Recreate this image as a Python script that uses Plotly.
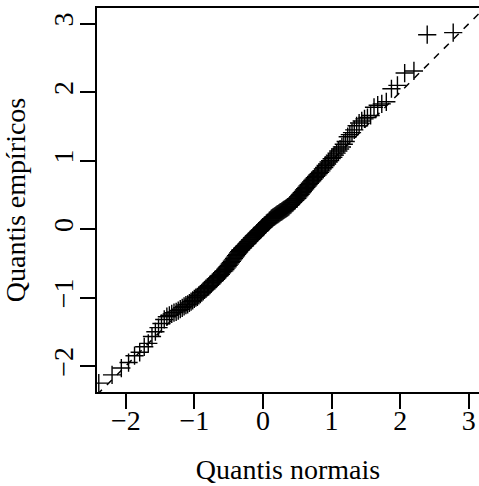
from statistics import NormalDist
import plotly.graph_objects as go

# Sorted sample (empirical quantiles)
amostra = [
    -2.60, -2.25, -2.13, -2.03, -1.95, -1.85, -1.80, -1.72, -1.67, -1.57,
    -1.50, -1.44, -1.38, -1.32, -1.28, -1.26, -1.24, -1.22, -1.21, -1.19,
    -1.17, -1.15, -1.13, -1.11, -1.10, -1.08, -1.06, -1.04, -1.02, -1.00,
    -0.99, -0.97, -0.95, -0.93, -0.91, -0.89, -0.87, -0.85, -0.84, -0.82,
    -0.80, -0.78, -0.76, -0.75, -0.73, -0.71, -0.69, -0.68, -0.66, -0.64,
    -0.62, -0.61, -0.59, -0.57, -0.55, -0.53, -0.51, -0.49, -0.47, -0.45,
    -0.43, -0.41, -0.39, -0.37, -0.35, -0.33, -0.31, -0.30, -0.28, -0.27,
    -0.25, -0.24, -0.22, -0.21, -0.19, -0.18, -0.16, -0.15, -0.13, -0.12,
    -0.10, -0.09, -0.08, -0.06, -0.05, -0.03, -0.02, -0.01, 0.01, 0.02,
    0.03, 0.05, 0.06, 0.08, 0.09, 0.10, 0.12, 0.13, 0.15, 0.16,
    0.17, 0.18, 0.19, 0.20, 0.21, 0.22, 0.23, 0.24, 0.25, 0.26,
    0.27, 0.28, 0.29, 0.30, 0.31, 0.32, 0.33, 0.35, 0.36, 0.38,
    0.39, 0.41, 0.42, 0.44, 0.45, 0.47, 0.49, 0.51, 0.53, 0.55,
    0.57, 0.59, 0.61, 0.63, 0.65, 0.67, 0.69, 0.71, 0.73, 0.75,
    0.77, 0.79, 0.81, 0.83, 0.85, 0.88, 0.90, 0.93, 0.95, 0.98,
    1.00, 1.03, 1.05, 1.08, 1.11, 1.14, 1.17, 1.20, 1.24, 1.28,
    1.35, 1.38, 1.41, 1.45, 1.51, 1.55, 1.58, 1.61, 1.63, 1.66,
    1.78, 1.81, 1.83, 1.86, 2.05, 2.10, 2.28, 2.31, 2.84, 2.87,
]

x_ticks = [-2, -1, 0, 1, 2, 3]
y_ticks = [-2, -1, 0, 1, 2, 3]
x_range = [-2.42, 3.149]
y_range = [-2.38, 3.23]

# Theoretical normal quantiles at the plotting positions (i - 0.5) / n
n = len(amostra)
nd = NormalDist()
teoricos = [nd.inv_cdf((i + 0.5) / n) for i in range(n)]

fig = go.Figure()

# Reference line y = x across the whole plotting region
fig.add_trace(go.Scatter(
    x=x_range, y=x_range, mode="lines",
    line=dict(color="black", width=1.5, dash="7px,7px"),
    hoverinfo="skip", showlegend=False,
))

fig.add_trace(go.Scatter(
    x=teoricos, y=amostra, mode="markers",
    marker=dict(symbol="cross-thin", size=13, color="black",
                line=dict(color="black", width=1.4)),
    showlegend=False,
))

serif = "Liberation Serif, Times New Roman, serif"

fig.update_layout(
    width=479, height=486,
    margin=dict(l=97, r=0, t=8, b=94),
    paper_bgcolor="white", plot_bgcolor="white",
    font=dict(family=serif, size=28, color="black"),
)

fig.update_xaxes(
    range=x_range, tickvals=x_ticks, ticks="outside", ticklen=15,
    tickwidth=1.5, tickcolor="black", showline=True, linecolor="black",
    linewidth=1.5, mirror=True, showgrid=False, zeroline=False,
    ticklabelstandoff=-12,
    tickfont=dict(family=serif, size=28),
    title=dict(text="Quantis normais", standoff=24,
               font=dict(family=serif, size=28)),
)
fig.update_yaxes(
    range=y_range, tickvals=y_ticks, ticks="outside", ticklen=15,
    tickwidth=1.5, tickcolor="black", showline=True, linecolor="black",
    linewidth=1.5, mirror=False, showgrid=False, zeroline=False,
    tickangle=-90, ticklabelstandoff=-4,
    tickfont=dict(family=serif, size=28),
    title=dict(text="Quantis empíricos", standoff=16,
               font=dict(family=serif, size=28)),
)

fig.write_html("out.html")
